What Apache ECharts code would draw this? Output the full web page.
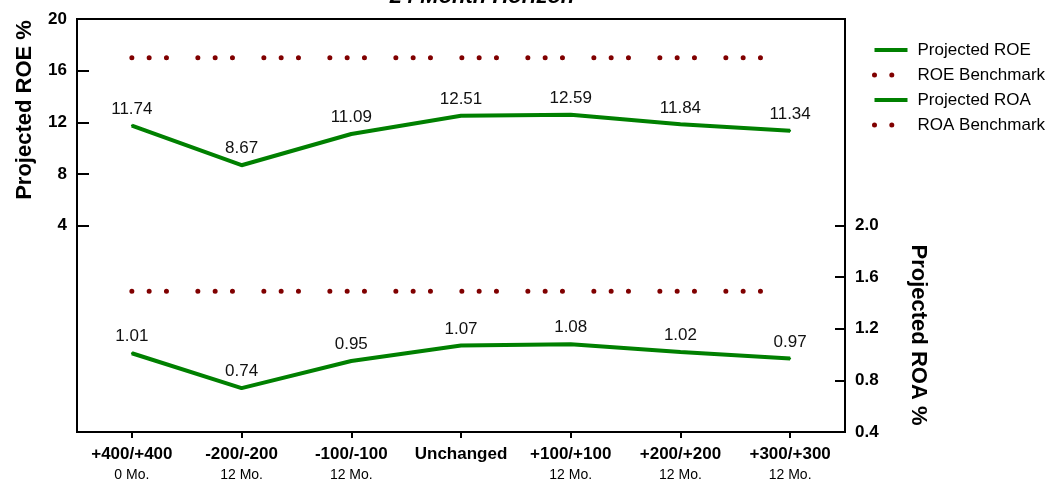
<!DOCTYPE html>
<html>
<head>
<meta charset="utf-8">
<script src="https://cdn.jsdelivr.net/npm/echarts@6/dist/echarts.min.js"></script>
<style>
html,body{margin:0;padding:0;background:#fff;}
#chart{width:1057px;height:480px;}
</style>
</head>
<body>
<div id="chart"></div>
<script>
var categories = ['+400/+400', '-200/-200', '-100/-100', 'Unchanged', '+100/+100', '+200/+200', '+300/+300'];
var horizons = ['0 Mo.', '12 Mo.', '12 Mo.', '', '12 Mo.', '12 Mo.', '12 Mo.'];
var projectedROE = [11.74, 8.67, 11.09, 12.51, 12.59, 11.84, 11.34];
var roeBenchmark = [17, 17, 17, 17, 17, 17, 17];
var projectedROA = [1.01, 0.74, 0.95, 1.07, 1.08, 1.02, 0.97];
var roaBenchmark = [1.49, 1.49, 1.49, 1.49, 1.49, 1.49, 1.49];
var roeTicks = [4, 8, 12, 16, 20];
var roaTicks = [0.4, 0.8, 1.2, 1.6, 2.0];

var FONT = 'Liberation Sans, Arial, sans-serif';
var GREEN = '#008000';
var RED = '#800000';
var dotDash = [0, 17.3, 0, 17.3, 0, 31.4];

var chart = echarts.init(document.getElementById('chart'), null, {renderer: 'canvas'});

function lineSeries(name, data, axis) {
  return {
    name: name, type: 'line', yAxisIndex: axis, data: data,
    symbol: 'circle', symbolSize: 2, itemStyle: {color: GREEN},
    lineStyle: {color: GREEN, width: 4},
    label: {show: true, position: 'top', distance: 7, color: '#111', fontFamily: FONT, fontSize: 17,
      formatter: function (p) { return p.value.toFixed(2); }},
    emphasis: {disabled: true}, animation: false, z: 3
  };
}
function benchSeries(name, data, axis) {
  return {
    name: name, type: 'line', yAxisIndex: axis, data: data,
    symbol: 'circle', symbolSize: 0.1, itemStyle: {color: RED},
    lineStyle: {color: RED, width: 5, type: dotDash, cap: 'round'},
    emphasis: {disabled: true}, animation: false, z: 2
  };
}

var option = {
  backgroundColor: '#fff',
  animation: false,
  textStyle: {fontFamily: FONT},
  grid: {left: 77, right: 212, top: 19, bottom: 48, show: true, borderColor: '#000', borderWidth: 2,
    containLabel: false, outerBoundsMode: 'none'},
  legend: {
    orient: 'vertical', left: 872, top: 40, padding: 0, itemWidth: 33, itemHeight: 10, itemGap: 5,
    data: [
      {name: 'Projected ROE', lineStyle: {width: 4, color: GREEN}},
      {name: 'ROE Benchmark', lineStyle: {width: 5, color: RED, type: dotDash, cap: 'round'}},
      {name: 'Projected ROA', lineStyle: {width: 4, color: GREEN}},
      {name: 'ROA Benchmark', lineStyle: {width: 5, color: RED, type: dotDash, cap: 'round'}}
    ],
    itemStyle: {opacity: 0},
    textStyle: {fontFamily: FONT, fontSize: 17, color: '#000', lineHeight: 20, padding: [0, 0, 0, 5]},
    selectedMode: false
  },
  xAxis: {
    type: 'category', data: categories, boundaryGap: true,
    axisLine: {show: true, onZero: false, lineStyle: {color: '#000', width: 2}},
    axisTick: {show: true, alignWithLabel: true, inside: false, length: 6, lineStyle: {color: '#000', width: 2}},
    axisLabel: {
      margin: 12, interval: 0,
      formatter: function (v, i) { return '{a|' + v + '}\n{b|' + (horizons[i] || ' ') + '}'; },
      rich: {
        a: {fontFamily: FONT, fontSize: 17, fontWeight: 'bold', color: '#000', lineHeight: 20},
        b: {fontFamily: FONT, fontSize: 14, color: '#000', lineHeight: 23}
      }
    },
    splitLine: {show: false}
  },
  yAxis: [
    {
      type: 'value', position: 'left', min: -12, max: 20, interval: 4,
      axisLine: {show: true, onZero: false, lineStyle: {color: '#000', width: 2}},
      axisTick: {show: true, inside: true, length: 12, customValues: roeTicks, lineStyle: {color: '#000', width: 2}},
      axisLabel: {show: true, margin: 10, customValues: roeTicks, fontFamily: FONT, fontSize: 17, fontWeight: 'bold', color: '#000'},
      splitLine: {show: false}
    },
    {
      type: 'value', position: 'right', min: 0.4, max: 3.6, interval: 0.4,
      axisLine: {show: true, onZero: false, lineStyle: {color: '#000', width: 2}},
      axisTick: {show: true, inside: true, length: 10, customValues: roaTicks, lineStyle: {color: '#000', width: 2}},
      axisLabel: {show: true, margin: 10, customValues: roaTicks, fontFamily: FONT, fontSize: 17, fontWeight: 'bold', color: '#000',
        formatter: function (v) { return v.toFixed(1); }},
      splitLine: {show: false}
    }
  ],
  graphic: [
    {type: 'text', x: 482, y: -3, silent: true,
      style: {text: '24 Month Horizon', font: 'italic bold 22px ' + FONT, fill: '#000', align: 'center', verticalAlign: 'middle'}},
    {type: 'text', x: 25, y: 110, rotation: Math.PI / 2, silent: true,
      style: {text: 'Projected ROE %', font: 'bold 22px ' + FONT, fill: '#000', align: 'center', verticalAlign: 'middle'}},
    {type: 'text', x: 918, y: 335, rotation: -Math.PI / 2, silent: true,
      style: {text: 'Projected ROA %', font: 'bold 22px ' + FONT, fill: '#000', align: 'center', verticalAlign: 'middle'}}
  ],
  series: [
    lineSeries('Projected ROE', projectedROE, 0),
    benchSeries('ROE Benchmark', roeBenchmark, 0),
    lineSeries('Projected ROA', projectedROA, 1),
    benchSeries('ROA Benchmark', roaBenchmark, 1)
  ]
};
chart.setOption(option);
</script>
</body>
</html>
